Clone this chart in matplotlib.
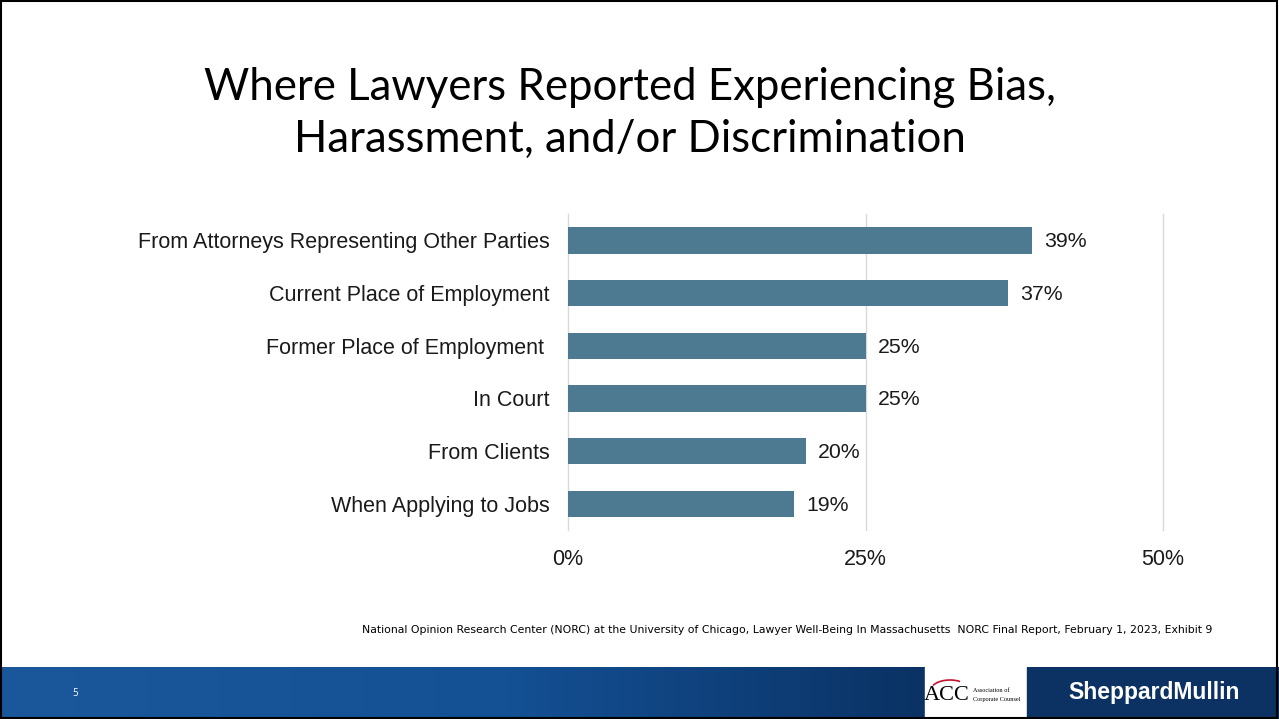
import numpy as np
import matplotlib
matplotlib.use("Agg")
from matplotlib import pyplot as plt
from matplotlib.patches import Rectangle, Arc

# data
categories = ["From Attorneys Representing Other Parties",
              "Current Place of Employment",
              "Former Place of Employment ",
              "In Court",
              "From Clients",
              "When Applying to Jobs"]
values = [39, 37, 25, 25, 20, 19]
xticks = [0, 25, 50]
xtick_labels = ["0%", "25%", "50%"]

title = "Where Lawyers Reported Experiencing Bias,\nHarassment, and/or Discrimination"
source = ("National Opinion Research Center (NORC) at the University of Chicago, Lawyer Well-Being In "
          "Massachusetts  NORC Final Report, February 1, 2023, Exhibit 9")

W, H = 1279, 719
fig = plt.figure(figsize=(W/100, H/100), dpi=100)
fig.patch.set_facecolor("white")

def px(x0, y0, x1, y1):
    # pixel box (top-left origin) -> figure fraction rect
    return [x0/W, 1 - y1/H, (x1-x0)/W, (y1-y0)/H]

# title
fig.text(630/W, 1 - 113/H, title, ha="center", va="center", fontsize=31.5,
         family="Lato", color="black", linespacing=1.33)

# chart
ax = fig.add_axes(px(568, 214, 1163, 530))
y = np.arange(len(categories))
bars = ax.barh(y, values, height=0.5, color="#4e7a91")
ax.set_ylim(len(categories) - 0.5, -0.5)
ax.set_xlim(0, 50)
ax.set_xticks(xticks)
ax.set_xticklabels(xtick_labels)
ax.set_yticks(y)
ax.set_yticklabels(categories)
for s in ax.spines.values():
    s.set_visible(False)
for xv in xticks:
    ax.axvline(xv, color="#d9d9d9", linewidth=1, clip_on=False, zorder=0)
ax.tick_params(length=0, labelsize=15.5, colors="#1a1a1a")
ax.tick_params(axis="y", pad=13)
ax.tick_params(axis="x", pad=14)
for lab in ax.get_xticklabels() + ax.get_yticklabels():
    lab.set_family("Liberation Sans")
for b, v in zip(bars, values):
    ax.text(v + 1.0, b.get_y() + b.get_height()/2 + 0.03, f"{v}%", va="center", ha="left",
            fontsize=15.3, family="Liberation Sans", color="#1a1a1a")

# source note
fig.text(787/W, 1 - 630/H, source, ha="center", va="center", fontsize=7.8,
         family="Liberation Sans Narrow", color="black")

# footer band with gradient
fax = fig.add_axes(px(0, 667, W, H))
fax.set_xlim(0, W)
fax.set_ylim(H, 667)
fax.axis("off")
left = np.array([27, 88, 155]) / 255
mid = np.array([20, 80, 148]) / 255
right = np.array([10, 50, 100]) / 255
t = np.linspace(0, 1, 400)
cols = np.array([left + (mid - left) * min(u / 0.55, 1) if u < 0.55
                 else mid + (right - mid) * (u - 0.55) / 0.45 for u in t])
fax.imshow(cols[None, :, :], extent=[0, 925, H, 667], aspect="auto")
fax.add_patch(Rectangle((925, 667), 102, 52, color="white"))
fax.add_patch(Rectangle((1027, 667), 252, 52, color="#0b3262"))
fax.text(75, 694, "5", color="white", fontsize=7, ha="center", va="center", family="Open Sans")
fax.text(1154, 693, "SheppardMullin", color="white", fontsize=16.5, fontweight="bold",
         ha="center", va="center", family="Liberation Sans")
# ACC mark
fax.text(947, 696, "ACC", color="black", fontsize=16, ha="center", va="center",
         family="Liberation Serif")
fax.add_patch(Arc((950, 690), 38, 20, theta1=195, theta2=320, color="#c8102e", lw=1.2))
fax.text(973, 691, "Association of", color="black", fontsize=4.5, ha="left", va="center",
         family="Liberation Serif")
fax.text(973, 700, "Corporate Counsel", color="black", fontsize=4.5, ha="left", va="center",
         family="Liberation Serif")

# slide border
bax = fig.add_axes([0, 0, 1, 1])
bax.axis("off")
bax.add_patch(Rectangle((0.0005, 0.001), 0.998, 0.997, fill=False, ec="black", lw=1.5,
                        transform=bax.transAxes))

fig.savefig("out.png", dpi=100)
